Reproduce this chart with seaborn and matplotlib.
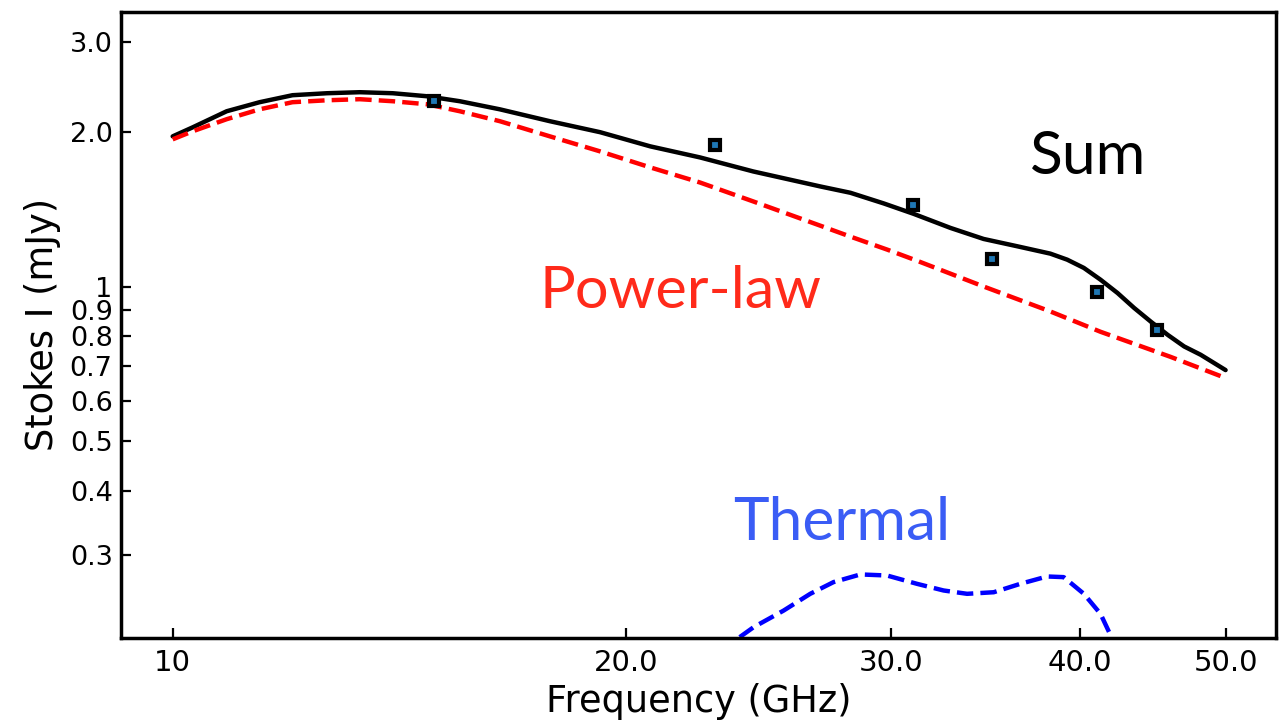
import matplotlib
matplotlib.use("Agg")
import matplotlib.pyplot as plt
import seaborn as sns
import pandas as pd
from matplotlib.ticker import FixedLocator, FixedFormatter, NullLocator

# ---- data ----
sum_freq = [10.00, 10.31, 10.86, 11.42, 12.01, 12.66, 13.31, 14.00, 14.75, 15.51,
            16.49, 17.80, 19.22, 20.75, 22.39, 24.29, 26.91, 28.18, 29.65, 31.03,
            32.83, 34.54, 36.36, 38.25, 39.25, 40.26, 41.30, 42.39, 43.48, 44.60,
            45.76, 46.93, 48.13, 50.00]
sum_flux = [1.963, 2.044, 2.197, 2.288, 2.361, 2.382, 2.393, 2.382, 2.350, 2.298,
            2.216, 2.101, 2.000, 1.877, 1.786, 1.677, 1.568, 1.524, 1.453, 1.387,
            1.302, 1.239, 1.199, 1.160, 1.129, 1.088, 1.032, 0.972, 0.909, 0.855,
            0.806, 0.765, 0.737, 0.688]

pl_freq = [10.00, 10.31, 10.86, 11.42, 12.01, 12.66, 13.31, 14.00, 14.75, 15.51,
           16.49, 17.80, 19.22, 20.75, 22.39, 24.29, 26.91, 28.18, 29.81, 31.19,
           34.54, 38.25, 41.30, 45.97, 50.00]
pl_flux = [1.937, 2.008, 2.120, 2.216, 2.288, 2.308, 2.319, 2.298, 2.267, 2.197,
           2.101, 1.963, 1.835, 1.708, 1.596, 1.466, 1.315, 1.252, 1.181, 1.124,
           1.001, 0.895, 0.817, 0.730, 0.664]

th_freq = [23.10, 23.70, 24.30, 25.44, 26.50, 27.46, 28.61, 29.80, 31.19, 32.49,
           33.68, 35.08, 36.54, 38.06, 39.04, 40.26, 41.30, 42.05, 42.59]
th_flux = [0.1954, 0.206, 0.2171, 0.2339, 0.2522, 0.2658, 0.2751, 0.2738, 0.2638, 0.2560,
           0.2522, 0.2540, 0.2638, 0.2726, 0.2718, 0.2522, 0.2305, 0.206, 0.191]

obs_freq = [14.9, 22.9, 31.0, 35.0, 41.1, 45.0]
obs_flux = [2.30, 1.89, 1.44, 1.13, 0.978, 0.824]

x_ticks = [10, 20, 30, 40, 50]
x_tick_labels = ["10", "20.0", "30.0", "40.0", "50.0"]
y_ticks = [0.3, 0.4, 0.5, 0.6, 0.7, 0.8, 0.9, 1, 2.0, 3.0]
y_tick_labels = ["0.3", "0.4", "0.5", "0.6", "0.7", "0.8", "0.9", "1", "2.0", "3.0"]

# ---- plot ----
sns.set_style("ticks")
plt.rcParams["font.family"] = ["DejaVu Sans"]
plt.rcParams["text.color"] = "black"
plt.rcParams["axes.labelcolor"] = "black"
plt.rcParams["xtick.color"] = "black"
plt.rcParams["ytick.color"] = "black"

fig = plt.figure(figsize=(12.87, 7.24), dpi=100)
ax = fig.add_axes([0.094, 0.119, 0.8974, 0.8645])

df_sum = pd.DataFrame({"f": sum_freq, "s": sum_flux})
df_pl = pd.DataFrame({"f": pl_freq, "s": pl_flux})
df_th = pd.DataFrame({"f": th_freq, "s": th_flux})
df_obs = pd.DataFrame({"f": obs_freq, "s": obs_flux})

sns.lineplot(data=df_sum, x="f", y="s", ax=ax, color="black", lw=3.2, estimator=None, sort=False)
sns.lineplot(data=df_pl, x="f", y="s", ax=ax, color="red", lw=3.2, ls="--", estimator=None, sort=False)
sns.lineplot(data=df_th, x="f", y="s", ax=ax, color="blue", lw=3.2, ls="--", estimator=None, sort=False)
ax.plot(df_obs["f"], df_obs["s"], ls="none", marker="s", ms=7.6, mew=3.0,
        mfc="#1f77b4", mec="black", zorder=5)

ax.set_xscale("log")
ax.set_yscale("log")
ax.set_xlim(9.24, 54.0)
ax.set_ylim(0.207, 3.43)

ax.xaxis.set_major_locator(FixedLocator(x_ticks))
ax.xaxis.set_major_formatter(FixedFormatter(x_tick_labels))
ax.xaxis.set_minor_locator(NullLocator())
ax.yaxis.set_major_locator(FixedLocator(y_ticks))
ax.yaxis.set_major_formatter(FixedFormatter(y_tick_labels))
ax.yaxis.set_minor_locator(NullLocator())

ax.tick_params(axis="both", direction="in", length=7.5, width=1.6, color="black",
               labelcolor="black")
ax.tick_params(axis="x", labelsize=21, pad=8)
ax.tick_params(axis="y", labelsize=19.5, pad=6)

for sp in ax.spines.values():
    sp.set_linewidth(2.5)
    sp.set_color("black")

ax.set_xlabel("Frequency (GHz)", fontsize=26.5, labelpad=4, color="black")
ax.set_ylabel("Stokes I (mJy)", fontsize=26.5, labelpad=6, color="black")

ax.text(37.1, 1.655, "Sum", fontsize=43.5, color="black", family=["Lato", "DejaVu Sans"],
        ha="left", va="baseline")
ax.text(17.53, 0.910, "Power-law", fontsize=42.8, color="#ff2a1a", family=["Lato", "DejaVu Sans"],
        ha="left", va="baseline")
ax.text(23.56, 0.3206, "Thermal", fontsize=43.5, color="#3a5cf5", family=["Lato", "DejaVu Sans"],
        ha="left", va="baseline")

fig.savefig("out.png", dpi=100)
